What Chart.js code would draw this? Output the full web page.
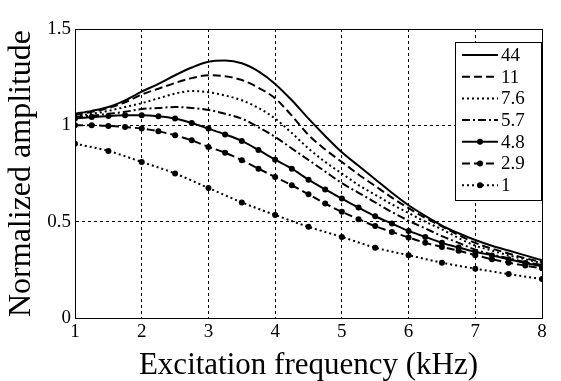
<!DOCTYPE html>
<html><head><meta charset="utf-8">
<script src="https://cdn.jsdelivr.net/npm/chart.js@4/dist/chart.umd.min.js"></script>
<style>html,body{margin:0;padding:0;background:#fff}#wrap{width:561px;height:381px;position:relative}
#probe{position:absolute;left:-9999px;top:0;font-family:"Liberation Serif";font-size:20px}</style>
</head><body><div id="probe">Normalized amplitude 0123456789</div><div id="wrap"><canvas id="c" width="561" height="381"></canvas></div>
<script>
const freqFine = [1,1.25,1.5,1.75,2,2.25,2.5,2.75,3,3.25,3.5,3.75,4,4.25,4.5,4.75,5,5.25,5.5,5.75,6,6.25,6.5,6.75,7,7.25,7.5,7.75,8];
const freqCoarse = [1,1.5,2,2.5,3,3.5,4,4.5,5,5.5,6,6.5,7,7.5,8];
const seriesLabels = ["44","11","7.6","5.7","4.8","2.9","1"];
const amp44  = [1.06,1.075,1.095,1.13,1.175,1.215,1.26,1.30,1.33,1.336,1.322,1.28,1.215,1.13,1.035,0.945,0.86,0.79,0.72,0.65,0.585,0.53,0.48,0.44,0.405,0.375,0.35,0.325,0.30];
const amp11  = [1.055,1.07,1.09,1.12,1.16,1.19,1.22,1.245,1.26,1.255,1.235,1.195,1.14,1.05,0.95,0.875,0.81,0.745,0.685,0.625,0.57,0.52,0.475,0.43,0.39,0.36,0.335,0.31,0.29];
const amp7_6 = [1.05,1.06,1.075,1.095,1.115,1.14,1.165,1.178,1.172,1.155,1.13,1.09,1.035,0.96,0.88,0.81,0.75,0.69,0.64,0.59,0.545,0.5,0.46,0.415,0.375,0.35,0.325,0.305,0.285];
const amp5_7 = [1.045,1.05,1.06,1.07,1.085,1.09,1.095,1.09,1.08,1.06,1.035,0.99,0.94,0.88,0.82,0.76,0.70,0.65,0.60,0.55,0.505,0.465,0.425,0.39,0.355,0.33,0.31,0.29,0.275];
const amp4_8 = [1.035,1.043,1.048,1.052,1.052,1.047,1.035,1.012,0.983,0.953,0.919,0.872,0.822,0.775,0.718,0.667,0.62,0.573,0.528,0.49,0.452,0.421,0.39,0.366,0.344,0.325,0.305,0.285,0.268];
const amp2_9 = [1.0,1.0,0.997,0.991,0.983,0.969,0.948,0.922,0.888,0.858,0.819,0.775,0.732,0.689,0.642,0.594,0.551,0.513,0.477,0.447,0.418,0.39,0.369,0.349,0.326,0.305,0.287,0.272,0.258];
const amp1   = [0.905,0.867,0.81,0.75,0.675,0.60,0.535,0.473,0.421,0.365,0.326,0.287,0.256,0.228,0.202];
const yTicks = [0,0.5,1,1.5];
const xTicks = [1,2,3,4,5,6,7,8];

const FONT = '"Liberation Serif", "DejaVu Serif", serif';
function pts(xs, ys){ return xs.map((x,i)=>({x:x,y:ys[i]})); }
const styles = [
  {dash:[], r:0},
  {dash:[8,4], r:0},
  {dash:[2,3], r:0},
  {dash:[8,3,2,3], r:0},
  {dash:[], r:3},
  {dash:[8,4], r:3},
  {dash:[2,3], r:3}
];
const allData = [pts(freqFine,amp44),pts(freqFine,amp11),pts(freqFine,amp7_6),pts(freqFine,amp5_7),pts(freqFine,amp4_8),pts(freqFine,amp2_9),pts(freqCoarse,amp1)];
const datasets = allData.map((d,i)=>({
  label: seriesLabels[i], data: d, borderColor:'#000', backgroundColor:'#000',
  borderWidth:2, borderDash: styles[i].dash, pointRadius: styles[i].r,
  pointBackgroundColor:'#000', pointBorderWidth:0, pointHoverRadius:0,
  cubicInterpolationMode:'monotone', fill:false
}));

const boxPlugin = {
  id:'box',
  afterDraw(chart){
    const {ctx, chartArea:a} = chart;
    ctx.save();
    ctx.strokeStyle='#000'; ctx.lineWidth=1; ctx.setLineDash([]);
    ctx.strokeRect(Math.round(a.left)+0.5, Math.round(a.top)+0.5, Math.round(a.right-a.left), Math.round(a.bottom-a.top));
    const bx=455, by=42, bw=86, bh=158;
    ctx.fillStyle='#fff'; ctx.fillRect(bx,by,bw,bh);
    ctx.strokeRect(bx+0.5,by+0.5,bw,bh);
    ctx.font = "19px " + FONT; ctx.textBaseline='middle'; ctx.textAlign='left';
    chart.data.datasets.forEach((ds,i)=>{
      const y = 55 + i*21.7;
      ctx.beginPath(); ctx.setLineDash(ds.borderDash); ctx.lineWidth=2; ctx.strokeStyle='#000';
      ctx.moveTo(462,y); ctx.lineTo(498,y); ctx.stroke(); ctx.setLineDash([]);
      if (ds.pointRadius>0){ ctx.beginPath(); ctx.arc(480,y,ds.pointRadius,0,Math.PI*2); ctx.fillStyle='#000'; ctx.fill(); }
      ctx.fillStyle='#000'; ctx.fillText(ds.label, 501, y+1);
    });
    ctx.restore();
  }
};

function build(){
new Chart(document.getElementById('c'), {
  type:'line',
  data:{datasets},
  options:{
    responsive:false, animation:false, devicePixelRatio:1,
    layout:{padding:{top:29,right:19,left:0,bottom:0}},
    plugins:{legend:{display:false}, tooltip:{enabled:false}},
    scales:{
      x:{type:'linear', min:1, max:8,
        afterFit(s){ s.height=63; },
        afterBuildTicks(s){ s.ticks = xTicks.map(v=>({value:v})); },
        ticks:{color:'#000', font:{family:FONT,size:19}, padding:3, maxRotation:0, autoSkip:false},
        grid:{color:'#000', lineWidth:1, drawTicks:false},
        border:{display:true, color:'#000', dash:[3,3]},
        title:{display:true, text:'Excitation frequency (kHz)', color:'#000', font:{family:FONT,size:31,lineHeight:1}, padding:{top:0,bottom:0}}
      },
      y:{type:'linear', min:0, max:1.5,
        afterFit(s){ s.width=75; },
        afterBuildTicks(s){ s.ticks = yTicks.map(v=>({value:v})); },
        ticks:{color:'#000', font:{family:FONT,size:19}, padding:4, callback:(v)=>String(v)},
        grid:{color:'#000', lineWidth:1, drawTicks:false},
        border:{display:true, color:'#000', dash:[3,3]},
        title:{display:true, text:'Normalized amplitude', color:'#000', font:{family:FONT,size:32,lineHeight:1}, padding:{top:6,bottom:0}}
      }
    }
  },
  plugins:[boxPlugin]
});
}
if (document.fonts && document.fonts.load) {
  Promise.all([document.fonts.load('18px "Liberation Serif"'), document.fonts.load('30px "Liberation Serif"')]).then(build, build);
} else build();
</script></body></html>
